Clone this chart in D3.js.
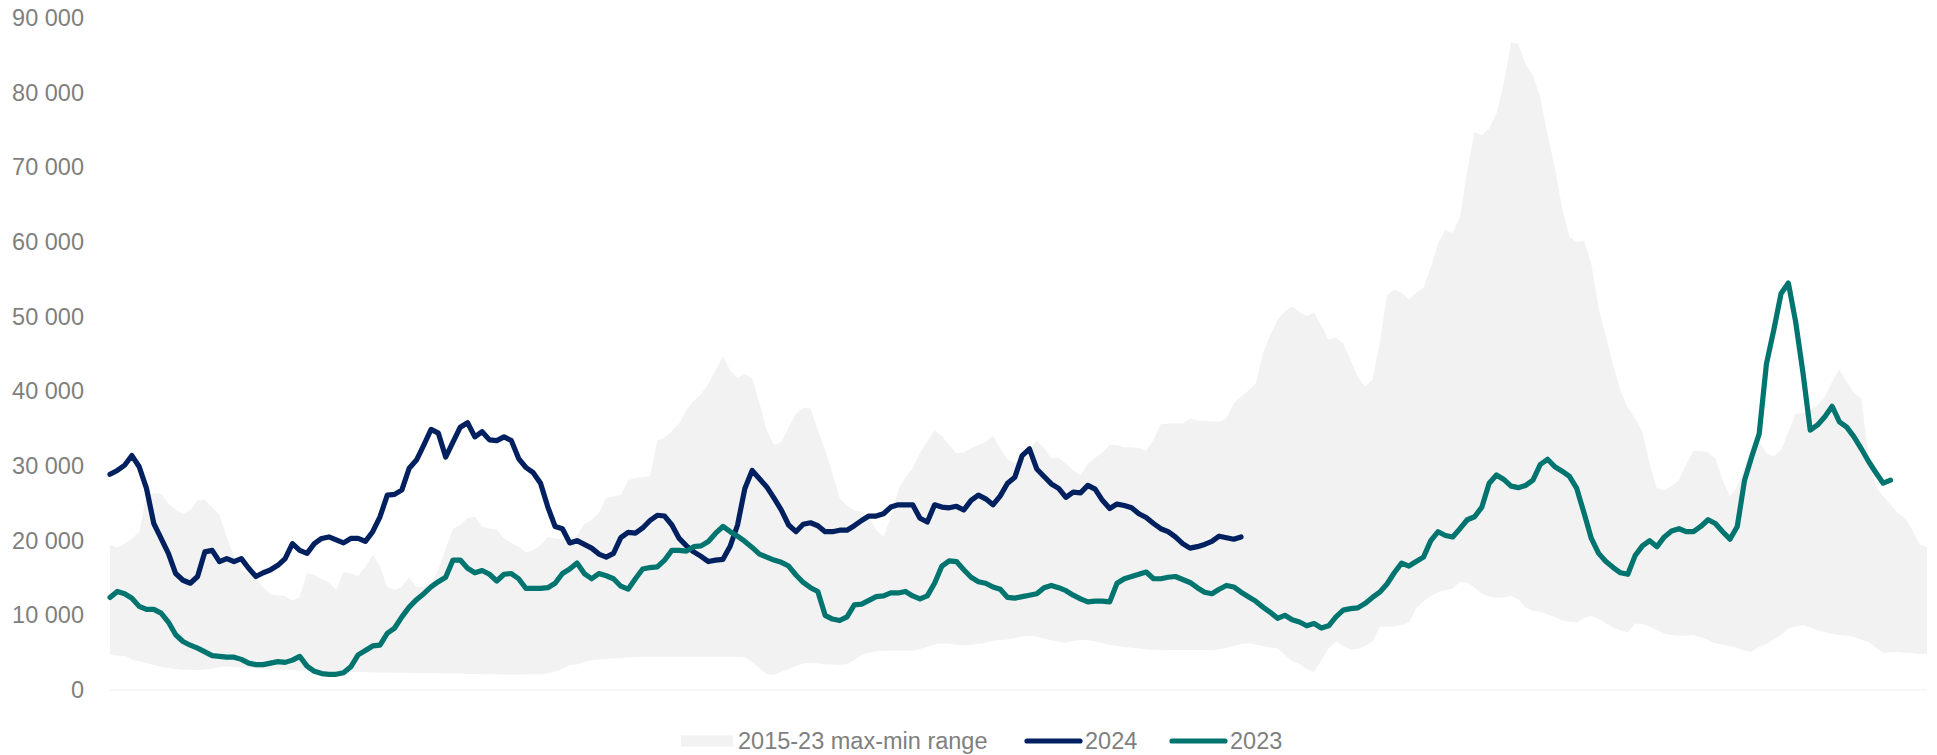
<!DOCTYPE html>
<html>
<head>
<meta charset="utf-8">
<script src="https://cdn.jsdelivr.net/npm/d3@7"></script>
<style>
  html, body { margin: 0; padding: 0; background: #ffffff; }
  svg { display: block; }
  text { font-family: "Liberation Sans", Arial, Helvetica, sans-serif; }
</style>
</head>
<body>
<svg id="chart" width="1937" height="755"></svg>
<script>
// Y axis ticks
const yTicks = [0, 10000, 20000, 30000, 40000, 50000, 60000, 70000, 80000, 90000];

// Legend entries
const legendLabels = ["2015-23 max-min range", "2024", "2023"];

// 2015-23 range, upper edge (one value per trading day)
const rangeMax = [
  19400, 19100, 19600, 20300, 21200, 26000, 26400, 26300, 25000, 24100,
  23600, 24100, 25400, 25400, 24500, 23400, 20500, 17800, 16100, 15600,
  14900, 13800, 12800, 12700, 12600, 12000, 12500, 15700, 15400, 14900,
  14400, 13400, 15800, 15600, 15300, 16500, 18100, 16500, 13800, 13400,
  13800, 15100, 13800, 13800, 14300, 16100, 19000, 21600, 22100, 23000,
  23200, 21900, 21600, 21500, 20300, 19700, 19200, 18400, 18700, 19400,
  20500, 20300, 20200, 20300, 20700, 22200, 22800, 23700, 25700, 25900,
  26100, 28100, 28400, 28500, 28600, 33400, 33800, 34700, 35700, 37500,
  38700, 39600, 41000, 42800, 44700, 42800, 41800, 42300, 41800, 38400,
  34800, 32800, 33200, 35200, 37000, 37800, 37700, 34800, 32100, 29000,
  25700, 24700, 24000, 23900, 23200, 21400, 20500, 23200, 26800, 28500,
  29700, 31700, 33300, 34800, 34000, 32800, 31700, 31800, 32400, 32800,
  33200, 34100, 32300, 30900, 30400, 31000, 32200, 33400, 32400, 31000,
  31100, 30300, 29400, 28800, 30300, 31100, 31800, 32800, 32800, 32500,
  32500, 32400, 32000, 33500, 35600, 35700, 35700, 35700, 36400, 36100,
  36000, 36000, 35900, 36400, 38400, 39300, 40100, 41000, 45100, 47500,
  49600, 50700, 51400, 50600, 50100, 50600, 48800, 46900, 47200, 46400,
  44200, 41900, 40600, 41600, 46400, 52900, 53600, 53200, 52300, 53200,
  53900, 56600, 59800, 61600, 61200, 63300, 69600, 74700, 74300, 75200,
  77200, 81200, 86800, 86500, 83800, 82300, 79400, 74300, 70000, 64500,
  60700, 60000, 60200, 57100, 51100, 47300, 43500, 40100, 37800, 36400,
  34600, 30200, 27000, 26800, 27300, 28100, 30200, 32000, 32000, 31800,
  31000, 28100, 25900, 27200, 29900, 32700, 33200, 31700, 31300, 32100,
  34600, 37000, 37100, 37600, 38100, 39300, 41300, 42900, 41300, 39800,
  39000, 31200, 27200, 25900, 24800, 23700, 23000, 21400, 19500, 19200
];

// 2015-23 range, lower edge
const rangeMin = [
  4680, 4620, 4550, 4100, 3850, 3570, 3350, 3120, 2950, 2810,
  2720, 2680, 2680, 2750, 2850, 3100, 3120, 3120, 3000, 2900,
  2850, 2810, 2780, 2750, 2700, 2650, 2600, 2550, 2500, 2500,
  2450, 2450, 2450, 2400, 2400, 2400, 2350, 2350, 2350, 2300,
  2300, 2300, 2250, 2250, 2250, 2250, 2200, 2200, 2200, 2150,
  2150, 2150, 2100, 2100, 2050, 2050, 2050, 2100, 2100, 2150,
  2200, 2500, 2850, 3350, 3430, 3750, 4000, 4100, 4200, 4250,
  4300, 4350, 4400, 4450, 4450, 4450, 4450, 4450, 4450, 4450,
  4450, 4450, 4450, 4450, 4450, 4450, 4450, 4400, 3700, 2900,
  2150, 2000, 2450, 2800, 3200, 3550, 3650, 3550, 3450, 3400,
  3350, 3500, 4000, 4700, 5000, 5200, 5250, 5250, 5250, 5250,
  5250, 5500, 5750, 6100, 6250, 6200, 6050, 6000, 6050, 6150,
  6350, 6600, 6700, 6780, 6950, 7150, 7250, 7150, 6900, 6650,
  6450, 6330, 6550, 6690, 6690, 6500, 6250, 6020, 5900, 5750,
  5650, 5550, 5450, 5400, 5400, 5350, 5350, 5350, 5350, 5350,
  5350, 5350, 5450, 5650, 5900, 6150, 6300, 6100, 5900, 5700,
  5580, 4700, 3900, 3480, 2800, 2400, 4000, 5600, 6500, 5900,
  5400, 5500, 5900, 6460, 8470, 8470, 8550, 8750, 9000, 10900,
  11900, 12600, 13100, 13400, 13600, 14500, 14360, 13740, 12930, 12490,
  12350, 12400, 12620, 12130, 11060, 10610, 10480, 10120, 9810, 9320,
  9140, 9050, 9680, 9900, 9540, 8920, 8380, 7980, 7720, 8920,
  8830, 8470, 8030, 7580, 7360, 7270, 7310, 7360, 7050, 6690,
  6240, 6070, 5890, 5580, 5260, 5130, 5800, 6150, 6780, 7360,
  8210, 8470, 8700, 8380, 8030, 7720, 7490, 7360, 7310, 7140,
  6780, 6380, 5710, 5000, 5040, 5080, 5000, 4910, 4820, 4820
];

// 2024 (year to date)
const series2024 = [
  28900, 29400, 30100, 31400, 29900, 27000, 22300, 20300, 18300, 15600,
  14700, 14300, 15200, 18500, 18700, 17200, 17600, 17200, 17600, 16300,
  15200, 15700, 16100, 16700, 17600, 19600, 18700, 18300, 19600, 20300,
  20500, 20100, 19700, 20300, 20300, 19900, 21200, 23200, 26100, 26200,
  26800, 29700, 30800, 32800, 34900, 34400, 31200, 33200, 35200, 35800,
  33900, 34600, 33500, 33400, 33900, 33400, 31000, 29800, 29100, 27700,
  24500, 21900, 21600, 19700, 20000, 19500, 19000, 18200, 17800, 18300,
  20400, 21100, 21000, 21700, 22700, 23400, 23300, 22100, 20300, 19300,
  18500, 17900, 17200, 17400, 17500, 19300, 22100, 27000, 29400, 28300,
  27200, 25700, 24100, 22100, 21200, 22200, 22400, 22000, 21200, 21200,
  21400, 21400, 22000, 22700, 23300, 23300, 23600, 24500, 24800, 24800,
  24800, 23000, 22500, 24800, 24500, 24400, 24600, 24100, 25400, 26100,
  25600, 24800, 26000, 27700, 28500, 31400, 32300, 29600, 28600, 27600,
  27000, 25800, 26500, 26400, 27400, 26900, 25400, 24300, 24900, 24700,
  24400, 23600, 23100, 22300, 21600, 21200, 20500, 19600, 19000, 19200,
  19500, 19900, 20600, 20400, 20200, 20500
];

// 2023
const series2023 = [
  12400, 13200, 12900, 12300, 11200, 10800, 10800, 10300, 9100, 7400,
  6500, 6000, 5600, 5100, 4600, 4500, 4400, 4400, 4100, 3600,
  3400, 3400, 3600, 3800, 3700, 4000, 4500, 3200, 2500, 2200,
  2100, 2100, 2300, 3100, 4700, 5300, 5900, 6000, 7600, 8300,
  9800, 11100, 12100, 12900, 13800, 14500, 15100, 17400, 17400, 16300,
  15700, 16000, 15500, 14600, 15500, 15600, 14900, 13600, 13600, 13600,
  13700, 14300, 15600, 16200, 17000, 15600, 14900, 15600, 15300, 14900,
  13900, 13500, 14900, 16200, 16400, 16500, 17400, 18700, 18700, 18600,
  19200, 19300, 19900, 21000, 21900, 21200, 20600, 19900, 19100, 18200,
  17800, 17400, 17100, 16600, 15400, 14400, 13700, 13200, 10000, 9500,
  9300, 9800, 11400, 11500, 12000, 12500, 12600, 13000, 13000, 13200,
  12600, 12200, 12600, 14300, 16600, 17300, 17200, 16100, 15100, 14500,
  14300, 13800, 13500, 12400, 12300, 12500, 12700, 12900, 13700, 14000,
  13700, 13300, 12700, 12200, 11800, 11900, 11900, 11800, 14300, 14900,
  15200, 15500, 15800, 14900, 14900, 15100, 15200, 14800, 14400, 13700,
  13100, 12900, 13500, 14000, 13800, 13100, 12500, 11900, 11100, 10400,
  9600, 10000, 9400, 9100, 8600, 8900, 8300, 8600, 9800, 10700,
  10900, 11000, 11600, 12400, 13100, 14200, 15700, 17000, 16600, 17200,
  17800, 20000, 21200, 20700, 20500, 21600, 22800, 23200, 24500, 27700,
  28800, 28200, 27300, 27100, 27400, 28100, 30200, 30900, 29900, 29300,
  28600, 27000, 23700, 20300, 18300, 17200, 16400, 15700, 15500, 18000,
  19300, 20000, 19200, 20500, 21300, 21600, 21200, 21200, 21900, 22800,
  22300, 21200, 20200, 21900, 28100, 31300, 34300, 43700, 48200, 53100,
  54500, 49300, 42500, 34800, 35500, 36600, 38000, 35900, 35200, 33900,
  32300, 30600, 29100, 27700, 28100
];

const svg = d3.select("#chart");

const plotLeft = 110, plotRight = 1927, plotBottom = 690, plotTop = 18;

const x = d3.scaleLinear()
  .domain([0, rangeMax.length - 1])
  .range([plotLeft, plotRight]);

const y = d3.scaleLinear()
  .domain([0, 90000])
  .range([plotBottom, plotTop]);

const textGrey = "#7f7f7f";
const bandFill = "#f2f2f2";
const color2024 = "#002060";
const color2023 = "#00746f";

// Max-min band
const band = d3.area()
  .x((d, i) => x(i))
  .y0((d, i) => y(rangeMin[i]))
  .y1(d => y(d))
  .curve(d3.curveLinear);

svg.append("path")
  .datum(rangeMax)
  .attr("d", band)
  .attr("fill", bandFill);

// Baseline
svg.append("line")
  .attr("x1", x(0)).attr("x2", x(rangeMax.length - 1))
  .attr("y1", y(0)).attr("y2", y(0))
  .attr("stroke", "#efefef")
  .attr("stroke-width", 1);

// Y axis labels
const fmt = d => d3.format(",")(d).replace(/,/g, " ");
const yAxis = svg.append("g")
  .attr("transform", `translate(${plotLeft},0)`)
  .call(d3.axisLeft(y).tickValues(yTicks).tickSize(0).tickPadding(26).tickFormat(fmt));
yAxis.select(".domain").remove();
yAxis.selectAll("text")
  .attr("fill", textGrey)
  .style("font-size", "23.5px")
  .style("font-family", "'Liberation Sans', Arial, sans-serif");

// Lines
const line = d3.line()
  .x((d, i) => x(i))
  .y(d => y(d))
  .curve(d3.curveLinear);

svg.append("path")
  .datum(series2024)
  .attr("d", line)
  .attr("fill", "none")
  .attr("stroke", color2024)
  .attr("stroke-width", 5.2)
  .attr("stroke-linejoin", "round")
  .attr("stroke-linecap", "round");

svg.append("path")
  .datum(series2023)
  .attr("d", line)
  .attr("fill", "none")
  .attr("stroke", color2023)
  .attr("stroke-width", 5.2)
  .attr("stroke-linejoin", "round")
  .attr("stroke-linecap", "round");

// Legend
const legend = svg.append("g").attr("class", "legend");
const legendY = 741;

legend.append("rect")
  .attr("x", 681).attr("y", legendY - 5.5)
  .attr("width", 52).attr("height", 11)
  .attr("fill", bandFill);
legend.append("text")
  .attr("x", 738).attr("y", legendY)
  .attr("dy", "0.35em")
  .attr("fill", textGrey)
  .style("font-size", "23.5px")
  .text(legendLabels[0]);

legend.append("line")
  .attr("x1", 1027).attr("x2", 1080)
  .attr("y1", legendY).attr("y2", legendY)
  .attr("stroke", color2024).attr("stroke-width", 5.2)
  .attr("stroke-linecap", "round");
legend.append("text")
  .attr("x", 1085).attr("y", legendY)
  .attr("dy", "0.35em")
  .attr("fill", textGrey)
  .style("font-size", "23.5px")
  .text(legendLabels[1]);

legend.append("line")
  .attr("x1", 1172).attr("x2", 1225)
  .attr("y1", legendY).attr("y2", legendY)
  .attr("stroke", color2023).attr("stroke-width", 5.2)
  .attr("stroke-linecap", "round");
legend.append("text")
  .attr("x", 1230).attr("y", legendY)
  .attr("dy", "0.35em")
  .attr("fill", textGrey)
  .style("font-size", "23.5px")
  .text(legendLabels[2]);
</script>
</body>
</html>
